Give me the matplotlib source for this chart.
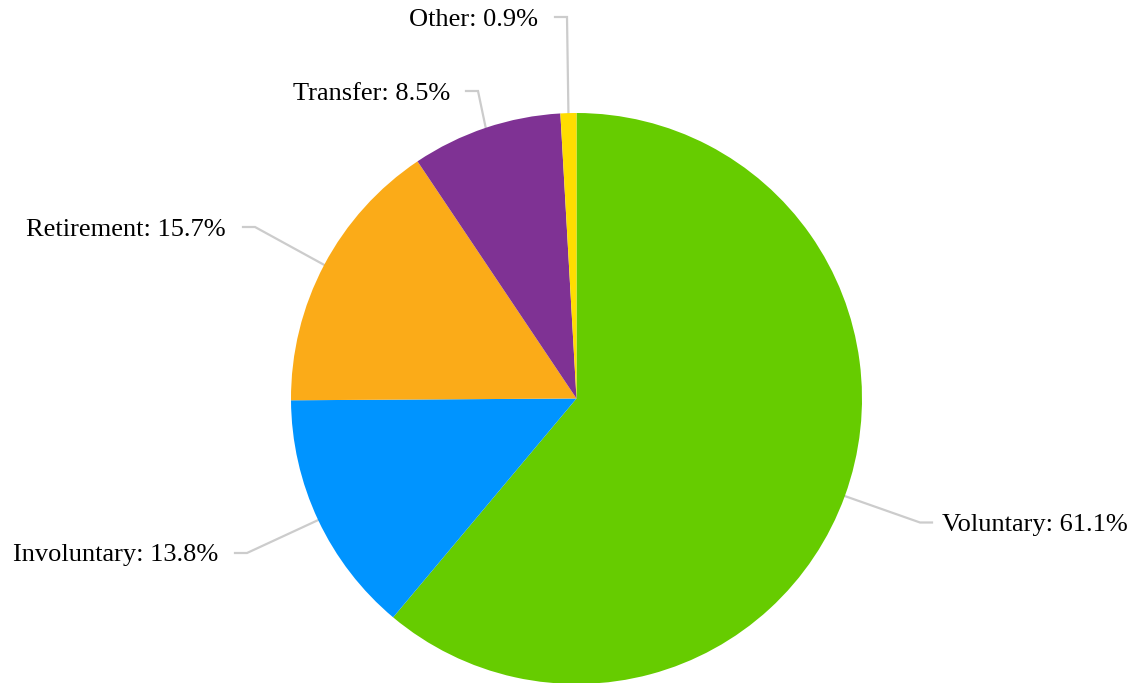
import numpy as np
import matplotlib
matplotlib.use("Agg")
import matplotlib.pyplot as plt

categories = ["Voluntary", "Involuntary", "Retirement", "Transfer", "Other"]
values = [61.1, 13.8, 15.7, 8.5, 0.9]
colors = ["#66cc00", "#0094ff", "#fbab18", "#7f3294", "#ffdd00"]

# layout (pixels)
W, H = 1135, 683
cx, cy_px, R = 576.5, 398.5, 285.5
label_y_px = [522.5, 553, 227, 91, 17]
elbow_dx = [343.5, -329.5, -321.5, -98.5, -9.5]
hseg = 12
text_gap = [10, 17, 17, 16, 17]

plt.rcParams['font.family'] = ['Liberation Serif', 'DejaVu Serif']
fig = plt.figure(figsize=(W / 100, H / 100), dpi=100)
ax = fig.add_axes([0, 0, 1, 1])

def Y(p):
    return H - p

wedges, _ = ax.pie(values, colors=colors, startangle=90, counterclock=False,
                   center=(cx, Y(cy_px)), radius=R,
                   wedgeprops=dict(linewidth=0))
ax.set_xlim(0, W)
ax.set_ylim(0, H)
ax.set_aspect('equal')
ax.axis('off')

for i, w in enumerate(wedges):
    mid = np.deg2rad((w.theta1 + w.theta2) / 2)
    x0 = cx + R * np.cos(mid)
    y0 = Y(cy_px) + R * np.sin(mid)
    ly = Y(label_y_px[i])
    ex = cx + elbow_dx[i]
    side = 1 if elbow_dx[i] > 0 else -1
    hx = ex + side * hseg
    ax.plot([x0, ex, hx], [y0, ly, ly], color="#cccccc", lw=1.6,
            solid_joinstyle='miter', zorder=0)
    tx = hx + side * text_gap[i]
    ax.text(tx, ly - 2.5, f"{categories[i]}: {values[i]}%", fontsize=19,
            ha='left' if side > 0 else 'right', va='center', color='black')

fig.savefig("out.png", dpi=100)
